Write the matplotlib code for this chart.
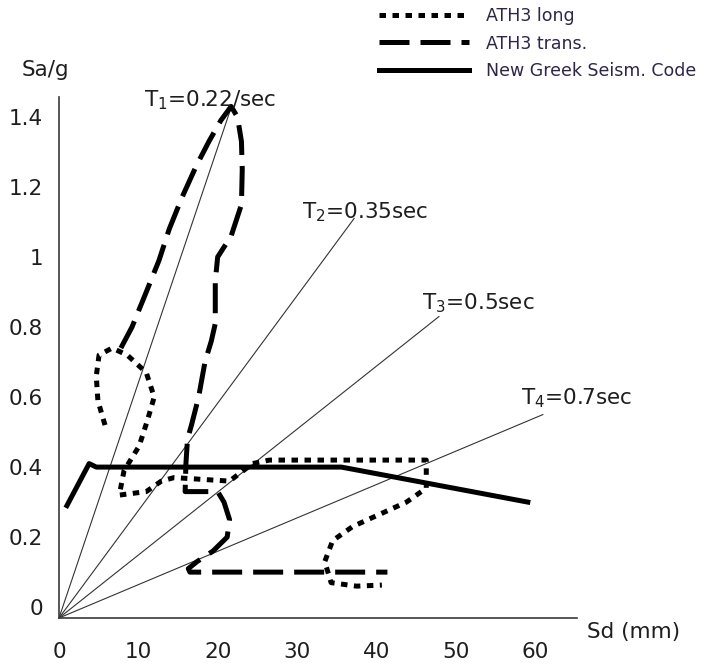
import matplotlib
matplotlib.use("Agg")
import matplotlib.pyplot as plt

plt.rcParams['font.family'] = ['DejaVu Sans']
plt.rcParams['mathtext.fontset'] = 'custom'
plt.rcParams['mathtext.rm'] = 'DejaVu Sans'
plt.rcParams['mathtext.it'] = 'DejaVu Sans'

# ---- data (Sd in mm, Sa in g) ----
long_sd = [5.8, 4.9, 4.7, 5.05, 6.7, 8.6, 11.0, 12.0, 11.1, 10.1, 8.2, 7.6, 11.0, 12.9,
           14.5, 21.5, 24.4, 26.5, 46.3, 46.3, 43.8, 37.0, 34.5, 33.5, 34.3, 37.5, 40.7]
long_sa = [0.52, 0.59, 0.66, 0.72, 0.74, 0.72, 0.67, 0.60, 0.53, 0.46, 0.39, 0.32, 0.33, 0.36,
           0.37, 0.36, 0.41, 0.42, 0.42, 0.34, 0.30, 0.23, 0.19, 0.13, 0.07, 0.06, 0.063]

trans_sd = [7.8, 9.2, 11.0, 12.6, 13.9, 15.5, 17.3, 18.9, 20.4, 21.7, 22.5, 23.0, 23.1, 23.0,
            21.7, 20.0, 19.7, 19.7, 19.2, 18.4, 17.6, 16.7, 16.2, 16.0, 15.9, 17.3, 20.0, 20.8,
            21.5, 21.2, 19.4, 17.4, 16.3, 16.5, 24.0, 34.1, 41.4]
trans_sa = [0.74, 0.80, 0.90, 0.99, 1.08, 1.17, 1.26, 1.33, 1.39, 1.43, 1.40, 1.33, 1.25, 1.15,
            1.06, 1.00, 0.93, 0.81, 0.76, 0.70, 0.60, 0.52, 0.48, 0.41, 0.33, 0.33, 0.33, 0.30,
            0.25, 0.20, 0.16, 0.13, 0.11, 0.10, 0.10, 0.10, 0.10]

code_sd = [1.0, 3.8, 4.7, 35.6, 59.1]
code_sa = [0.29, 0.41, 0.40, 0.40, 0.30]

period_labels = ["T$_{\\mathrm{1}}$=0.22/sec", "T$_{\\mathrm{2}}$=0.35sec",
                 "T$_{\\mathrm{3}}$=0.5sec", "T$_{\\mathrm{4}}$=0.7sec"]
period_end_sd = [21.6, 37.2, 47.9, 61.0]
period_end_sa = [1.42, 1.11, 0.83, 0.55]

x_ticks = [0, 10, 20, 30, 40, 50, 60]
y_ticks = [0, 0.2, 0.4, 0.6, 0.8, 1.0, 1.2, 1.4]
y_tick_labels = ["0", "0.2", "0.4", "0.6", "0.8", "1", "1.2", "1.4"]

# ---- figure ----
fig = plt.figure(figsize=(7.11, 6.66), dpi=100)
ax = fig.add_axes([59/711, 48/666, 518/711, 521/666])
ymin, ymax = -0.031, 1.457
ax.set_xlim(0, 65.3)
ax.set_ylim(ymin, ymax)

txt = '#1e1e1e'
for i in range(len(period_end_sd)):
    ax.plot([0, period_end_sd[i]], [ymin, period_end_sa[i]], color='#333333', lw=0.8, zorder=2)

lw = 3.6
l_long, = ax.plot(long_sd, long_sa, color='black', lw=lw, dashes=(1.3, 1.3), zorder=3,
                  dash_capstyle='butt', label='ATH3 long')
l_trans, = ax.plot(trans_sd, trans_sa, color='black', lw=lw, dashes=(6.0, 2.2), zorder=3,
                   dash_capstyle='butt', label='ATH3 trans.')
l_code, = ax.plot(code_sd, code_sa, color='black', lw=lw, zorder=4,
                  label='New Greek Seism. Code')

tfs = 15.5
ax.text(10.7, 1.449, period_labels[0], fontsize=tfs, color=txt, ha='left', va='center')
ax.text(30.6, 1.129, period_labels[1], fontsize=tfs, color=txt, ha='left', va='center')
ax.text(45.8, 0.869, period_labels[2], fontsize=tfs, color=txt, ha='left', va='center')
ax.text(58.3, 0.597, period_labels[3], fontsize=tfs, color=txt, ha='left', va='center')

for s in ['top', 'right']:
    ax.spines[s].set_visible(False)
for s in ['left', 'bottom']:
    ax.spines[s].set_color('#3a3a3a')
    ax.spines[s].set_linewidth(1.2)

ax.set_xticks(x_ticks)
ax.set_xticklabels([str(v) for v in x_ticks])
ax.set_yticks(y_ticks)
ax.set_yticklabels(y_tick_labels)
ax.tick_params(axis='both', length=0, labelsize=15.5, labelcolor=txt)
ax.tick_params(axis='y', pad=11.5)
ax.tick_params(axis='x', pad=17)

fig.text(22/711, 1 - 70/666, "Sa/g", fontsize=15.5, color=txt, ha='left', va='center')
fig.text(587/711, 1 - 632/666, "Sd (mm)", fontsize=15.5, color=txt, ha='left', va='center')

leg = fig.legend(handles=[l_long, l_trans, l_code], loc='upper left',
                 bbox_to_anchor=(379/711, 1 - 7/666), frameon=False, fontsize=12.5,
                 handlelength=5.2, handletextpad=0.95, labelspacing=0.55, borderpad=0,
                 borderaxespad=0)
for t in leg.get_texts():
    t.set_color('#2e2548')

fig.savefig('out.png', dpi=100)
